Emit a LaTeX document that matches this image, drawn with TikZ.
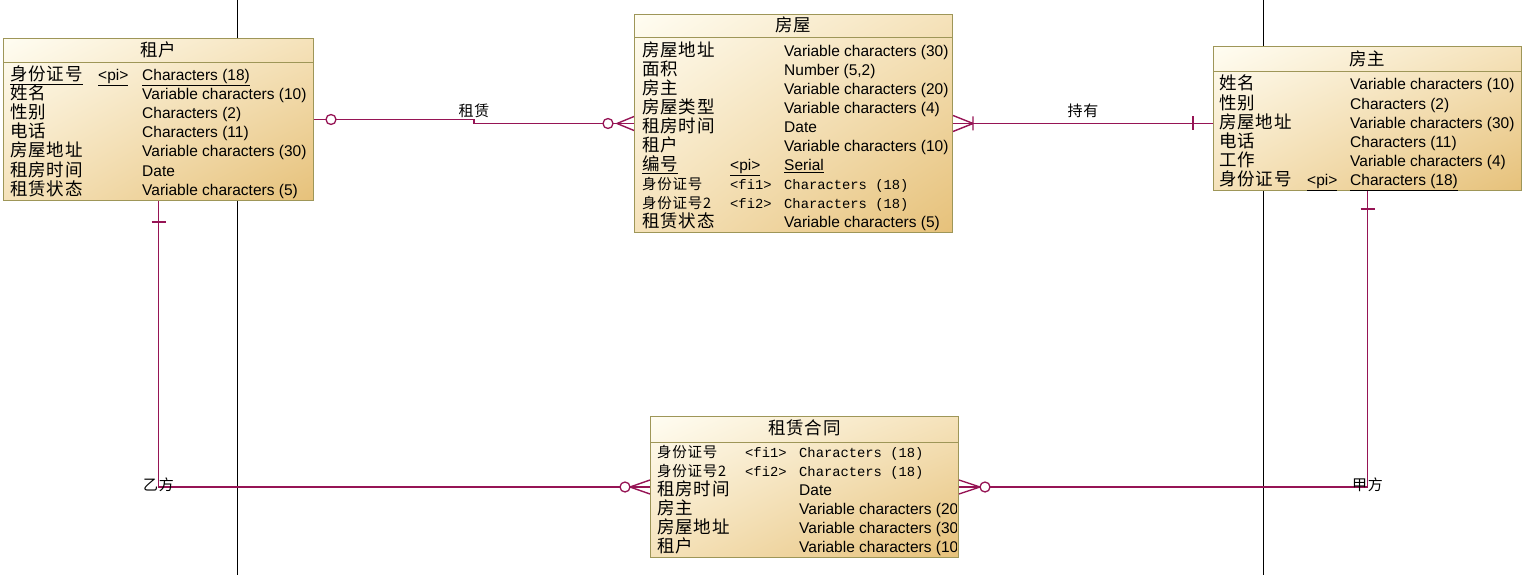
\documentclass[tikz,border=0pt]{standalone}
\usepackage{fontspec}
\setmainfont{Liberation Sans}
\setmonofont{Liberation Mono}
\newfontfamily\cjk[LetterSpace=5]{Noto Sans CJK SC}
\newcommand\ermono{\fontsize{13.8}{14}\selectfont\ttfamily}
\newcommand\ersmall{\fontsize{14.5}{14.5}\selectfont}
\usetikzlibrary{calc,positioning,shadings}
\definecolor{erlight}{RGB}{255,253,242}
\definecolor{ermid}{RGB}{245,226,186}
\definecolor{erdark}{RGB}{230,193,122}
\definecolor{erborder}{RGB}{158,150,88}
\definecolor{erlink}{RGB}{150,20,85}
\tikzset{
  er table/.style={draw=erborder,line width=1pt,shade,upper left=erlight,upper right=ermid,
    lower left=ermid,lower right=erdark,anchor=north west,inner sep=0pt},
  er title/.style={font=\fontsize{17.5}{17.5}\selectfont\cjk,inner sep=0pt},
  er cell/.style={anchor=west,inner sep=0pt,text height=11pt,text depth=3pt,font=\fontsize{15.5}{15.5}\selectfont},
  er name/.style={er cell,font=\fontsize{17.5}{17.5}\selectfont\cjk},
  er rule/.style={erborder,line width=1pt},
  er link/.style={erlink,line width=1.4pt},
  er end/.style={erlink,line width=1.3pt,fill=white},
  er role/.style={font=\fontsize{15}{15}\selectfont\cjk,inner sep=0pt},
  page break/.style={black,line width=0.9pt}
}
\begin{document}
\begin{tikzpicture}[x=1pt,y=-1pt]
\useasboundingbox (0,0) rectangle (1540,575);
\draw[page break] (237,0) coordinate (pb1 top) -- (237,575) coordinate (pb1 bot);
\draw[page break] (1263,0) coordinate (pb2 top) -- (1263,575) coordinate (pb2 bot);

% tables
\node[er table,minimum width=310pt,minimum height=162pt] (tenant) at (3,38) {};
\node[er title] (tenant title) at ($(tenant.north)+(0,12)$) {租户};
\draw[er rule] ($(tenant.north west)+(0,25)$) -- ($(tenant.north east)+(0,25)$);
\foreach \nm/\ky/\ty [count=\i from 0] in {
  {\underline{身份证号}}/{\underline{<pi>}}/{\underline{Characters (18)}},
  姓名//Variable characters (10),
  性别//Characters (2),
  电话//Characters (11),
  房屋地址//Variable characters (30),
  租房时间//Date,
  租赁状态//Variable characters (5)}{
  \node[er name] (tenant-n-\i) at ($(tenant.north west)+(7,39+19*\i)$) {\nm};
  \node[er cell] (tenant-k-\i) at ($(tenant.north west)+(95,39+19*\i)$) {\ky};
  \node[er cell] (tenant-t-\i) at ($(tenant.north west)+(139,39+19*\i)$) {\ty};
}

\node[er table,minimum width=318pt,minimum height=218pt] (house) at (634,14) {};
\node[er title] (house title) at ($(house.north)+(0,11)$) {房屋};
\draw[er rule] ($(house.north west)+(0,24)$) -- ($(house.north east)+(0,24)$);
\foreach \nm/\ky/\ty [count=\i from 0] in {
  房屋地址//Variable characters (30),
  面积//{Number (5,2)},
  房主//Variable characters (20),
  房屋类型//Variable characters (4),
  租房时间//Date,
  租户//Variable characters (10),
  {\underline{编号}}/{\underline{<pi>}}/{\underline{Serial}},
  {\ersmall 身份证号}/{\ermono <fi1>}/{\ermono Characters (18)},
  {\ersmall 身份证号2}/{\ermono <fi2>}/{\ermono Characters (18)},
  租赁状态//Variable characters (5)}{
  \node[er name] (house-n-\i) at ($(house.north west)+(8,39+18.9*\i)$) {\nm};
  \node[er cell] (house-k-\i) at ($(house.north west)+(96,39+18.9*\i)$) {\ky};
  \node[er cell] (house-t-\i) at ($(house.north west)+(150,39+18.9*\i)$) {\ty};
}

\node[er table,minimum width=308pt,minimum height=144pt] (owner) at (1213,46) {};
\node[er title] (owner title) at ($(owner.north)+(0,13)$) {房主};
\draw[er rule] ($(owner.north west)+(0,26)$) -- ($(owner.north east)+(0,26)$);
\foreach \nm/\ky/\ty [count=\i from 0] in {
  姓名//Variable characters (10),
  性别//Characters (2),
  房屋地址//Variable characters (30),
  电话//Characters (11),
  工作//Variable characters (4),
  身份证号/{\underline{<pi>}}/{\underline{Characters (18)}}}{
  \node[er name] (owner-n-\i) at ($(owner.north west)+(6,40+19.2*\i)$) {\nm};
  \node[er cell] (owner-k-\i) at ($(owner.north west)+(94,40+19.2*\i)$) {\ky};
  \node[er cell] (owner-t-\i) at ($(owner.north west)+(137,40+19.2*\i)$) {\ty};
}

\node[er table,minimum width=308pt,minimum height=141pt] (contract) at (650,416) {};
\node[er title] (contract title) at ($(contract.north)+(0,12)$) {租赁合同};
\draw[er rule] ($(contract.north west)+(0,26)$) -- ($(contract.north east)+(0,26)$);
\begin{scope}
\clip ($(contract.north west)+(1,1)$) rectangle ($(contract.south east)+(-3,-1)$);
\foreach \nm/\ky/\ty [count=\i from 0] in {
  {\ersmall 身份证号}/{\ermono <fi1>}/{\ermono Characters (18)},
  {\ersmall 身份证号2}/{\ermono <fi2>}/{\ermono Characters (18)},
  租房时间//Date,
  房主//Variable characters (20),
  房屋地址//Variable characters (30),
  租户//Variable characters (10)}{
  \node[er name] (contract-n-\i) at ($(contract.north west)+(7,37+19*\i)$) {\nm};
  \node[er cell] (contract-k-\i) at ($(contract.north west)+(95,37+19*\i)$) {\ky};
  \node[er cell] (contract-t-\i) at ($(contract.north west)+(149,37+19*\i)$) {\ty};
}
\end{scope}

% 租赁
\coordinate (rent mid) at ($(tenant.east)!.5!(house.west)$);
\draw[er link] (tenant.east) -| (rent mid) |- (house.west);
\draw[er link] ($(house.west)+(-17,0)$) -- ($(house.west)+(0,-7)$)
  ($(house.west)+(-17,0)$) -- ($(house.west)+(0,7)$);
\draw[er end] ($(house.west)+(-26,0)$) circle (5pt);
\draw[er end] ($(tenant.east)+(17,0)$) circle (5pt);
\node[er role,above=4pt of rent mid] (rent label) {租赁};

% 持有
\coordinate (own end) at (house.east -| owner.west);
\draw[er link] (house.east) -- (own end);
\draw[er link] ($(house.east)+(0,-8)$) -- ($(house.east)+(20,0)$) -- ($(house.east)+(0,8)$)
  ($(house.east)+(20,-7)$) -- ($(house.east)+(20,7)$);
\draw[er link] ($(own end)+(-20,-7)$) -- ($(own end)+(-20,7)$);
\node[er role] (own label) at ($(house.east)!.5!(own end)+(0,-13)$) {持有};

% 乙方
\coordinate (party b) at (tenant.south |- contract.west);
\draw[er link] (tenant.south) |- (contract.west);
\draw[er link] ($(tenant.south)+(-7,21)$) -- ($(tenant.south)+(7,21)$);
\draw[er link] ($(contract.west)+(-20,0)$) -- ($(contract.west)+(0,-7)$)
  ($(contract.west)+(-20,0)$) -- ($(contract.west)+(0,7)$);
\draw[er end] ($(contract.west)+(-25,0)$) circle (5pt);
\node[er role] (b label) at ($(party b)+(0,-2)$) {乙方};

% 甲方
\coordinate (party a) at (owner.south |- contract.east);
\draw[er link] (owner.south) |- (contract.east);
\draw[er link] ($(owner.south)+(-7,18)$) -- ($(owner.south)+(7,18)$);
\draw[er link] ($(contract.east)+(0,-7)$) -- ($(contract.east)+(21,0)$) -- ($(contract.east)+(0,7)$);
\draw[er end] ($(contract.east)+(26,0)$) circle (5pt);
\node[er role] (a label) at ($(party a)+(0,-2)$) {甲方};
\end{tikzpicture}
\end{document}
